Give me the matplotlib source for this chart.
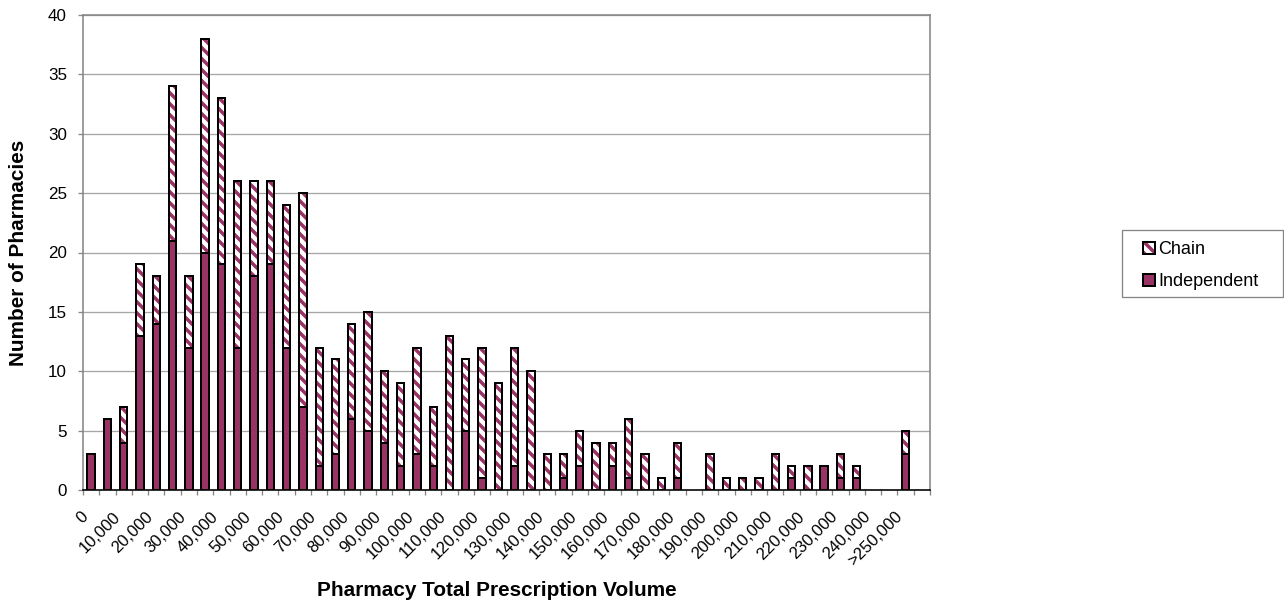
import matplotlib
matplotlib.use("Agg")
import matplotlib.pyplot as plt
import matplotlib.transforms as mtransforms
import numpy as np
from matplotlib.patches import Patch, Rectangle
from matplotlib.legend_handler import HandlerTuple

# The hatch tile spans one inch at the output resolution, so the dpi sets the
# stripe spacing; all sizes below are given in pixels and converted to points.
DPI = 132
W, H = 1284, 616


def px(v):
    return v * 72.0 / DPI


plt.rcParams["font.family"] = ["Liberation Sans", "DejaVu Sans"]
plt.rcParams["hatch.linewidth"] = px(3.5)
STRIPES = "\\" * 4

# Prescription-volume bins (5,000 wide); labels shown on every other bin
bin_labels = [f"{v:,}" for v in range(0, 250000, 5000)] + [">250,000", ""]

independent = [3, 6, 4, 13, 14, 21, 12, 20, 19, 12, 18, 19, 12, 7, 2, 3, 6, 5,
               4, 2, 3, 2, 0, 5, 1, 0, 2, 0, 0, 1, 2, 0, 2, 1, 0, 0, 1, 0,
               0, 0, 0, 0, 0, 1, 0, 2, 1, 1, 0, 0, 3, 0]
chain = [0, 0, 3, 6, 4, 13, 6, 18, 14, 14, 8, 7, 12, 18, 10, 8, 8, 10,
         6, 7, 9, 5, 13, 6, 11, 9, 10, 10, 3, 2, 3, 4, 2, 5, 3, 1, 3, 0,
         3, 1, 1, 1, 3, 1, 2, 0, 2, 1, 0, 0, 2, 0]

MAROON = "#993366"
GRID = "#a6a6a6"
FRAME = "#868686"

ind = np.array(independent, dtype=float)
ch = np.array(chain, dtype=float)
x = np.arange(len(bin_labels))
width = 0.45
edge_lw = px(2.0)

fig = plt.figure(figsize=(W / DPI, H / DPI), dpi=DPI)
ax = fig.add_axes([83 / W, 1 - 490 / H, (930 - 83) / W, (490 - 15) / H])

m_ind = ind > 0
ax.bar(x[m_ind], ind[m_ind], width, color=MAROON, edgecolor="black",
       linewidth=edge_lw, zorder=3)

m_ch = ch > 0
# hatch takes the edge colour, so stripes and black outline are drawn as two layers
ax.bar(x[m_ch], ch[m_ch], width, bottom=ind[m_ch], facecolor="white",
       edgecolor=MAROON, hatch=STRIPES, linewidth=0, zorder=3)
ax.bar(x[m_ch], ch[m_ch], width, bottom=ind[m_ch], fill=False,
       edgecolor="black", linewidth=edge_lw, zorder=4)

ax.set_xlim(-0.5, len(bin_labels) - 0.5)
ax.set_ylim(0, 40)
ax.set_yticks(np.arange(0, 41, 5))
ax.set_axisbelow(True)
ax.yaxis.grid(True, color=GRID, linewidth=px(1.3))

ax.set_xticks(x[::2])
ax.set_xticklabels(bin_labels[::2], rotation=45, ha="right", fontsize=px(16.7))
shift = mtransforms.ScaledTranslation(px(4) / 72, 0, fig.dpi_scale_trans)
for lab in ax.get_xticklabels():
    lab.set_transform(lab.get_transform() + shift)
ax.set_xticks(np.arange(-0.5, len(bin_labels), 1), minor=True)
ax.tick_params(axis="x", which="major", length=0, pad=px(19))
ax.tick_params(axis="x", which="minor", length=px(5), width=px(1.3), color=FRAME)
ax.tick_params(axis="y", length=px(5), width=px(1.3), color=FRAME,
               labelsize=px(17), pad=px(11))

for side in ("left", "top", "right"):
    ax.spines[side].set_color(FRAME)
    ax.spines[side].set_linewidth(px(1.6))
ax.spines["bottom"].set_color("black")
ax.spines["bottom"].set_linewidth(px(1.6))

fig.text(18.5 / W, 1 - 253 / H, "Number of Pharmacies", rotation=90,
         ha="center", va="center", fontsize=px(20.8), fontweight="bold")
fig.text(497 / W, 1 - 591 / H, "Pharmacy Total Prescription Volume",
         ha="center", va="center", fontsize=px(20.8), fontweight="bold")

# legend
chain_handle = (Patch(facecolor="white", edgecolor=MAROON, hatch=STRIPES, linewidth=0),
                Patch(fill=False, edgecolor="black", linewidth=edge_lw))
ind_handle = Patch(facecolor=MAROON, edgecolor="black", linewidth=edge_lw)
leg = fig.legend([chain_handle, ind_handle], ["Chain", "Independent"],
                 handler_map={tuple: HandlerTuple(ndivide=1, pad=0)},
                 loc="upper left", bbox_to_anchor=(1143 / W, 1 - 241 / H),
                 frameon=False, fontsize=px(18), borderpad=0, borderaxespad=0,
                 handlelength=0.65, handleheight=0.65, handletextpad=0.2,
                 labelspacing=0.86)
fig.patches.append(Rectangle((1122 / W, 1 - 297 / H), (1283 - 1122) / W,
                             67 / H, transform=fig.transFigure, fill=False,
                             edgecolor=FRAME, linewidth=px(1.3)))

fig.savefig("out.png", dpi=DPI)
